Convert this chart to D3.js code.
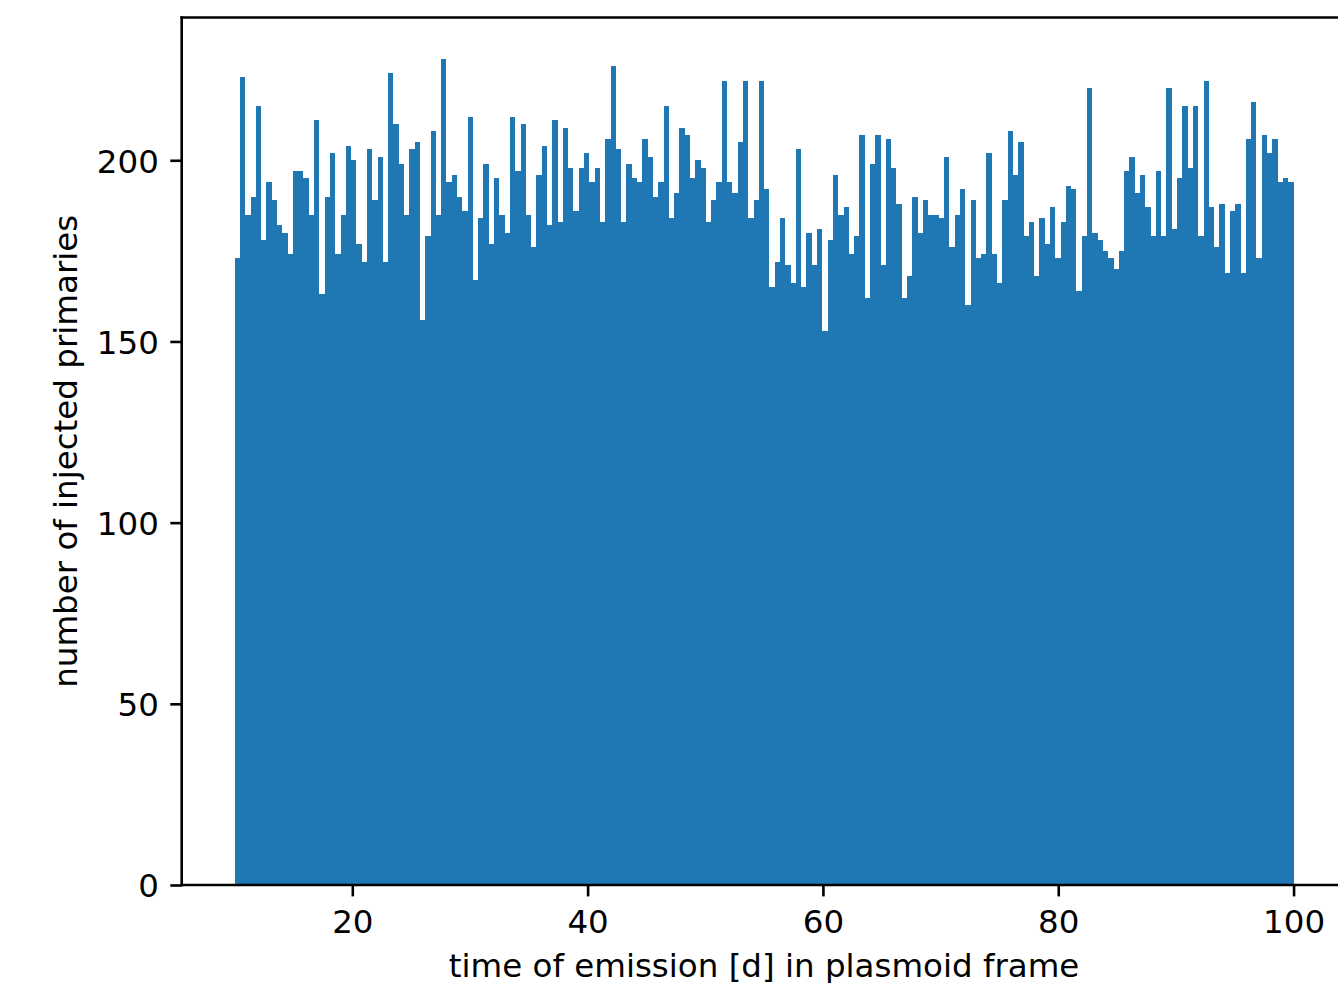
<!DOCTYPE html>
<html>
<head>
<meta charset="utf-8">
<script src="https://cdn.jsdelivr.net/npm/d3@7/dist/d3.min.js"></script>
<style>
  html, body { margin: 0; padding: 0; background: #ffffff; }
  svg { display: block; }
  text { font-family: "DejaVu Sans", sans-serif; fill: #000; }
</style>
</head>
<body>
<svg id="chart" width="1338" height="983"></svg>
<script>
// Histogram of emission times: 200 equal bins between 10 d and 100 d
const binStart = 10;
const binEnd = 100;
const counts = [
  173, 223, 185, 190, 215, 178, 194, 189, 182, 180,
  174, 197, 197, 195, 185, 211, 163, 190, 202, 174,
  185, 204, 200, 177, 172, 203, 189, 201, 172, 224,
  210, 199, 185, 203, 205, 156, 179, 208, 185, 228,
  194, 196, 190, 186, 212, 167, 184, 199, 177, 195,
  185, 180, 212, 197, 210, 185, 176, 196, 204, 182,
  211, 183, 209, 198, 186, 198, 202, 194, 198, 183,
  206, 226, 203, 183, 199, 195, 194, 206, 201, 190,
  194, 215, 184, 191, 209, 207, 195, 200, 198, 183,
  189, 194, 222, 194, 191, 205, 222, 184, 189, 222,
  192, 165, 172, 184, 171, 166, 203, 165, 180, 171,
  181, 153, 178, 196, 185, 187, 174, 179, 207, 162,
  199, 207, 171, 206, 198, 188, 162, 168, 190, 180,
  189, 185, 185, 184, 201, 176, 185, 192, 160, 189,
  173, 174, 202, 174, 166, 189, 208, 196, 205, 179,
  183, 168, 184, 177, 187, 173, 183, 193, 192, 164,
  179, 220, 180, 178, 175, 173, 170, 175, 197, 201,
  191, 196, 187, 179, 197, 179, 220, 181, 195, 215,
  198, 215, 179, 222, 187, 176, 188, 169, 186, 188,
  169, 206, 216, 173, 207, 202, 206, 194, 195, 194
];
const xTicks = [20, 40, 60, 80, 100];
const yTicks = [0, 50, 100, 150, 200];
const xLabel = "time of emission [d] in plasmoid frame";
const yLabel = "number of injected primaries";

const nBins = counts.length;
const edges = d3.range(nBins + 1).map(i => binStart + i * (binEnd - binStart) / nBins);
const bins = counts.map((c, i) => ({ x0: edges[i], x1: edges[i + 1], count: c }));

// Axes box (pixels)
const boxLeft = 181.7, boxTop = 17.5, boxBottom = 885, boxRight = 1346.5;
const fontPx = 32.5;
const tickLen = 11.4;
const lineW = 2.6;

// 5% margins on x, sticky zero on y
const xPad = (binEnd - binStart) * 0.05;
const yMax = d3.max(counts) * 1.05;
const x = d3.scaleLinear().domain([binStart - xPad, binEnd + xPad]).range([boxLeft, boxRight]);
const y = d3.scaleLinear().domain([0, yMax]).range([boxBottom, boxTop]);

const svg = d3.select("#chart");

// Bars
svg.append("g")
  .selectAll("rect")
  .data(bins)
  .join("rect")
  .attr("x", d => x(d.x0))
  .attr("width", d => x(d.x1) - x(d.x0))
  .attr("y", d => y(d.count))
  .attr("height", d => y(0) - y(d.count))
  .attr("fill", "#1f77b4")
  .attr("shape-rendering", "crispEdges");

// Bottom axis
const xAxis = d3.axisBottom(x)
  .tickValues(xTicks)
  .tickFormat(d3.format("d"))
  .tickSize(tickLen)
  .tickPadding(11.4)
  .tickSizeOuter(0);
const gx = svg.append("g")
  .attr("transform", `translate(0,${boxBottom})`)
  .call(xAxis);
gx.select(".domain").remove();
gx.selectAll(".tick line").attr("stroke", "#000").attr("stroke-width", lineW);
gx.selectAll(".tick text")
  .attr("font-size", fontPx)
  .attr("font-family", "DejaVu Sans")
  .attr("fill", "#000")
  .attr("dy", null)
  .attr("y", 48);

// Left axis
const yAxis = d3.axisLeft(y)
  .tickValues(yTicks)
  .tickFormat(d3.format("d"))
  .tickSize(tickLen)
  .tickPadding(11.4)
  .tickSizeOuter(0);
const gy = svg.append("g")
  .attr("transform", `translate(${boxLeft},0)`)
  .call(yAxis);
gy.select(".domain").remove();
gy.selectAll(".tick line").attr("stroke", "#000").attr("stroke-width", lineW);
gy.selectAll(".tick text")
  .attr("font-size", fontPx)
  .attr("font-family", "DejaVu Sans")
  .attr("fill", "#000")
  .attr("dy", null)
  .attr("y", fontPx * 0.3645);

// Frame (spines)
const frame = svg.append("g").attr("stroke", "#000").attr("stroke-width", lineW)
  .attr("stroke-linecap", "square").attr("fill", "none");
frame.append("line").attr("x1", boxLeft).attr("x2", boxLeft).attr("y1", boxTop).attr("y2", boxBottom);
frame.append("line").attr("x1", boxRight).attr("x2", boxRight).attr("y1", boxTop).attr("y2", boxBottom);
frame.append("line").attr("x1", boxLeft).attr("x2", boxRight).attr("y1", boxBottom).attr("y2", boxBottom);
frame.append("line").attr("x1", boxLeft).attr("x2", boxRight).attr("y1", boxTop).attr("y2", boxTop);

// Axis titles
svg.append("text")
  .attr("x", (boxLeft + boxRight) / 2)
  .attr("y", 976.5)
  .attr("text-anchor", "middle")
  .attr("font-size", fontPx)
  .text(xLabel);

svg.append("text")
  .attr("transform", `translate(76.7,${(boxTop + boxBottom) / 2}) rotate(-90)`)
  .attr("text-anchor", "middle")
  .attr("font-size", fontPx)
  .text(yLabel);
</script>
</body>
</html>
